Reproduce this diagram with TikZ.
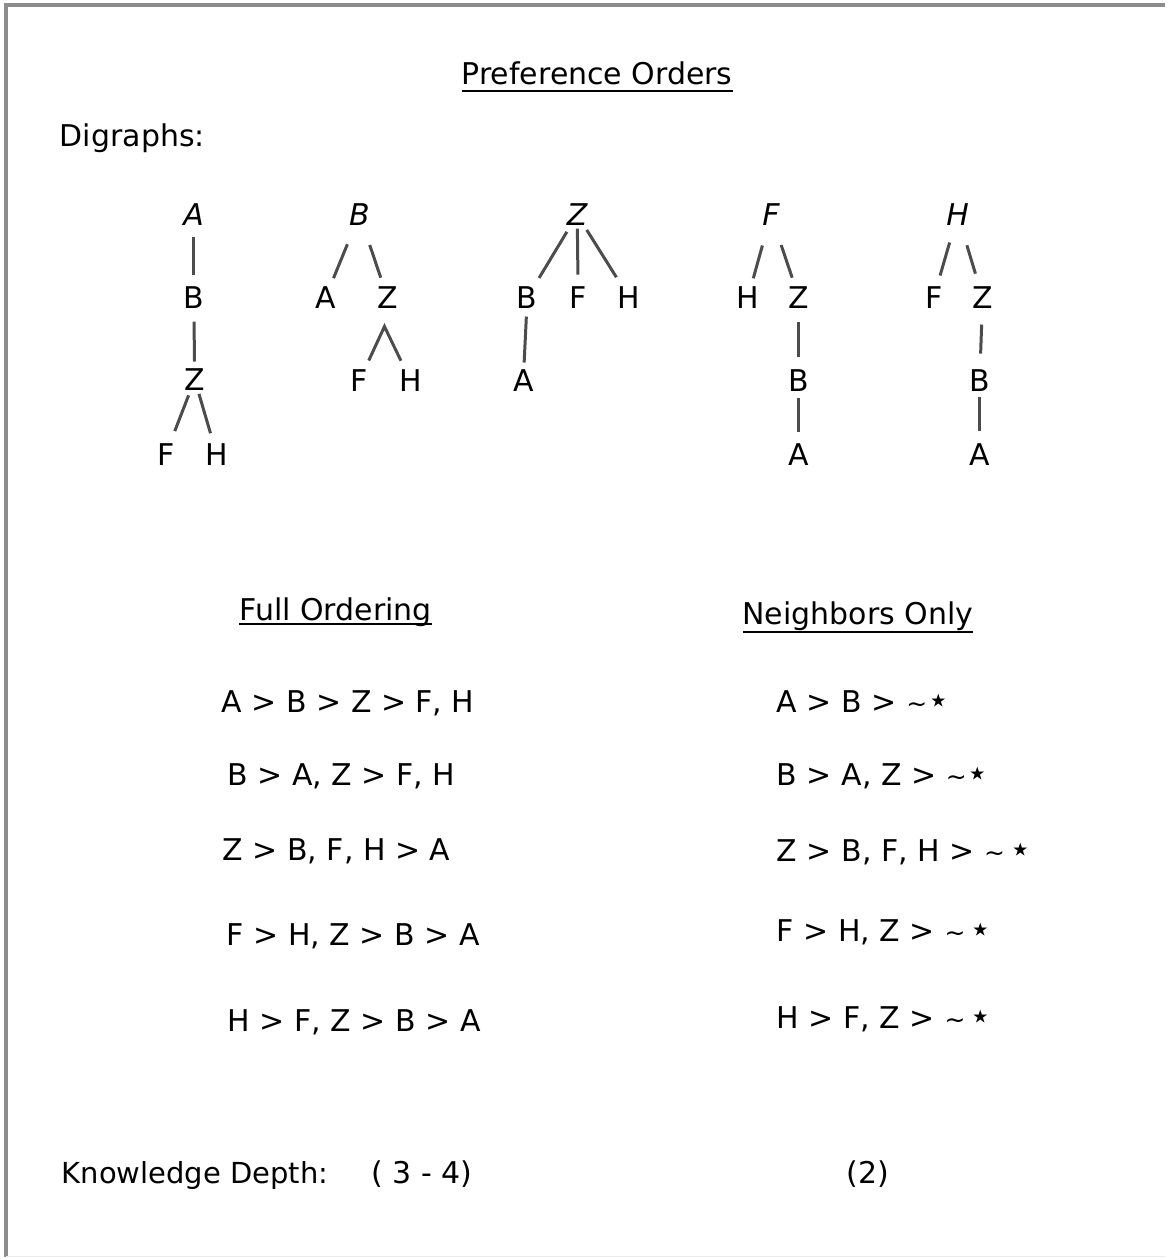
\documentclass[tikz,border=0pt]{standalone}
\usepackage{fontspec}
\setmainfont{DejaVu Sans}
\usetikzlibrary{calc}
\begin{document}
\begin{tikzpicture}[x=1pt,y=-1pt,
  every node/.style={inner sep=0pt, outer sep=0pt, font=\fontsize{30}{36}\selectfont},
  letter/.style={anchor=center},
  rootl/.style={anchor=center, font=\fontsize{30}{36}\selectfont\itshape},
  txt/.style={anchor=base west},
  link/.style 2 args={draw=black!70, line width=3pt, shorten <=#1pt, shorten >=#2pt},
  uline/.style={line width=2pt},
  frame/.style={draw=black!45, line width=3.5pt}
]
% page and its frame
\fill[white] (0,0) rectangle (1167,1259);
\draw[frame] (4,5) -- (1167,5);
\draw[frame] (6,4) -- (6,1259);
\draw[black!8, line width=1pt] (6,1258.5) -- (1167,1258.5);

% headings
\node[anchor=base] (title) at (598,85) {Preference Orders};
\draw[uline] ([yshift=-6.5pt]title.base west) -- ([yshift=-6.5pt]title.base east);
\node[txt] (digraphs) at (60,147) {Digraphs:};

% tree rooted at A
\node[rootl]  (aA) at (194,215) {A};
\node[letter] (aB) at (194,298) {B};
\node[letter] (aZ) at (195,380) {Z};
\node[letter] (aF) at (166,455) {F};
\node[letter] (aH) at (217,455) {H};
\draw[link={22}{23}] (aA.center) -- (aB.center);
\draw[link={24}{18}] (aB.center) -- (aZ.center);
\draw[link={17}{25}] (aZ.center) -- (aF.center);
\draw[link={15}{22}] (aZ.center) -- (aH.center);

% tree rooted at B
\node[rootl]  (bB) at (360,215) {B};
\node[letter] (bA) at (326,298) {A};
\node[letter] (bZ) at (388,298) {Z};
\node[letter] (bF) at (360,381) {F};
\node[letter] (bH) at (411,381) {H};
\coordinate (bApex) at ($(bZ)+(-3,29)$);
\draw[link={32}{21}] (bB.center) -- (bA.center);
\draw[link={32}{21}] (bB.center) -- (bZ.center);
\draw[link={22}{22}] (bF.center) -- (bApex) -- (bH.center);

% tree rooted at Z
\node[rootl]  (zZ) at (578,215) {Z};
\node[letter] (zB) at (528,298) {B};
\node[letter] (zF) at (579,298) {F};
\node[letter] (zH) at (630,298) {H};
\node[letter] (zA) at (524,381) {A};
\draw[link={20}{23}] (zZ.center) -- (zB.center);
\draw[link={14}{23}] (zZ.center) -- (zF.center);
\draw[link={18}{24}] (zZ.center) -- (zH.center);
\draw[link={19}{18}] (zB.center) -- (zA.center);

% tree rooted at F
\node[rootl]  (fF) at (772,215) {F};
\node[letter] (fH) at (749,298) {H};
\node[letter] (fZ) at (800,298) {Z};
\node[letter] (fB) at (800,381) {B};
\node[letter] (fA) at (800,455) {A};
\draw[link={32}{20}] (fF.center) -- (fH.center);
\draw[link={32}{21}] (fF.center) -- (fZ.center);
\draw[link={24}{24}] (fZ.center) -- (fB.center);
\draw[link={18}{22}] (fB.center) -- (fA.center);

% tree rooted at H
\node[rootl]  (hH) at (959,215) {H};
\node[letter] (hF) at (935,298) {F};
\node[letter] (hZ) at (984,298) {Z};
\node[letter] (hB) at (981,381) {B};
\node[letter] (hA) at (981,455) {A};
\draw[link={29}{23}] (hH.center) -- (hF.center);
\draw[link={32}{25}] (hH.center) -- (hZ.center);
\draw[link={27}{27}] (hZ.center) -- (hB.center);
\draw[link={17}{23}] (hB.center) -- (hA.center);

% column headings
\node[anchor=base] (full) at (336,621) {Full Ordering};
\draw[uline] ([yshift=-4pt]full.base west) -- ([yshift=-4pt]full.base east);
\node[anchor=base] (nbr) at (859,625) {Neighbors Only};
\draw[uline] ([yshift=-7.5pt]nbr.base west) -- ([yshift=-7.5pt]nbr.base east);

% full orderings
\node[txt] (fo1) at (222,713)  {A > B > Z > F, H};
\node[txt] (fo2) at (228,787)  {B > A, Z > F, H};
\node[txt] (fo3) at (223,862)  {Z > B, F, H > A};
\node[txt] (fo4) at (227,947)  {F > H, Z > B > A};
\node[txt] (fo5) at (228,1033) {H > F, Z > B > A};

% neighbour-only orderings: anything further down is unordered
\newcommand{\rest}[1]{{\fontsize{25}{25}\selectfont ∼#1\fontsize{36}{36}\selectfont ⋆}}
\node[txt] (no1) at (778,713)  {A > B > \rest{}};
\node[txt] (no2) at (778,787)  {B > A, Z > \rest{}};
\node[txt] (no3) at (778,863)  {Z > B, F, H > \rest{\,}};
\node[txt] (no4) at (778,943)  {F > H, Z > \rest{\,}};
\node[txt] (no5) at (778,1030) {H > F, Z > \rest{\,}};

% knowledge depth
\node[txt, font=\fontsize{29}{34}\selectfont] (kd) at (62,1185) {Knowledge Depth:};
\node[txt] (kdl) at (372,1185) {( 3 - 4)};
\node[anchor=base] (kdr) at (869,1185) {(2)};
\end{tikzpicture}
\end{document}
